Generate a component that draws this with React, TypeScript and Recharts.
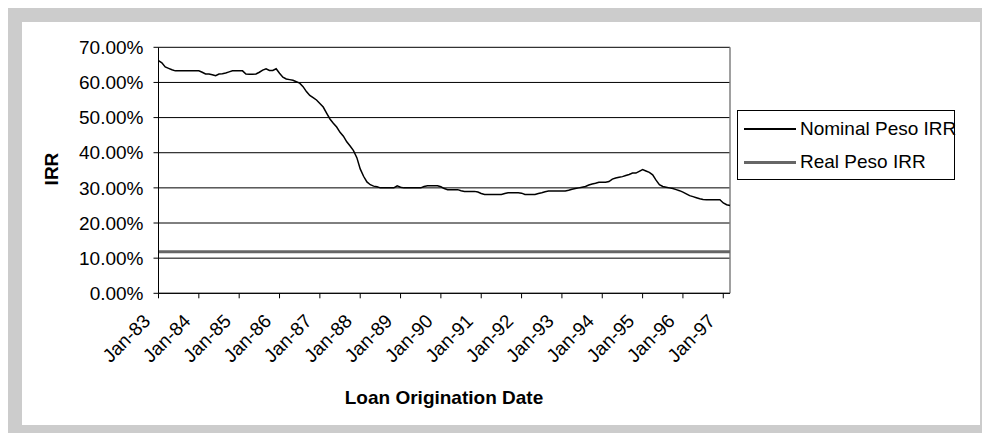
import {
    LineChart,
    Line,
    XAxis,
    YAxis,
    CartesianGrid,
    Legend,
    ReferenceLine,
    Label,
} from "recharts";

const FONT = '"Liberation Sans", Arial, sans-serif';

const monthNames = ["Jan", "Feb", "Mar", "Apr", "May", "Jun", "Jul", "Aug", "Sep", "Oct", "Nov", "Dec"];
const years = [83, 84, 85, 86, 87, 88, 89, 90, 91, 92, 93, 94, 95, 96, 97];

// nominal peso IRR (%), one array per year
const n1983 = [66.2, 65.6, 64.4, 64.0, 63.6, 63.3, 63.3, 63.3, 63.3, 63.3, 63.3, 63.3];
const n1984 = [63.3, 62.9, 62.4, 62.4, 62.2, 61.9, 62.4, 62.5, 62.7, 63.0, 63.3, 63.3];
const n1985 = [63.3, 63.3, 62.4, 62.3, 62.3, 62.4, 62.9, 63.5, 63.9, 63.4, 63.4, 63.9];
const n1986 = [62.6, 61.5, 61.0, 60.8, 60.6, 60.2, 59.8, 58.8, 57.4, 56.3, 55.7, 55.0];
const n1987 = [54.0, 53.0, 51.3, 49.6, 48.4, 47.3, 45.8, 44.7, 43.1, 41.9, 40.6, 38.6];
const n1988 = [35.4, 33.3, 31.7, 30.9, 30.5, 30.3, 30.0, 30.0, 30.0, 30.0, 30.0, 30.6];
const n1989 = [30.2, 30.0, 30.0, 30.0, 30.0, 30.0, 30.0, 30.4, 30.6, 30.6, 30.6, 30.6];
const n1990 = [30.3, 29.8, 29.5, 29.5, 29.5, 29.5, 29.2, 29.0, 29.0, 29.0, 29.0, 28.8];
const n1991 = [28.4, 28.1, 28.1, 28.1, 28.1, 28.1, 28.1, 28.4, 28.6, 28.6, 28.6, 28.6];
const n1992 = [28.5, 28.1, 28.1, 28.1, 28.1, 28.4, 28.6, 28.9, 29.1, 29.1, 29.1, 29.1];
const n1993 = [29.1, 29.1, 29.3, 29.6, 29.8, 30.0, 30.2, 30.4, 30.8, 31.1, 31.3, 31.6];
const n1994 = [31.6, 31.6, 31.8, 32.5, 32.8, 33.0, 33.2, 33.5, 33.8, 34.2, 34.2, 34.7];
const n1995 = [35.2, 34.8, 34.4, 33.7, 32.2, 30.9, 30.4, 30.2, 30.0, 29.8, 29.5, 29.2];
const n1996 = [28.8, 28.3, 27.8, 27.5, 27.2, 26.9, 26.7, 26.6, 26.6, 26.6, 26.6, 26.6];
const n1997 = [25.7, 25.2, 25.0];

const nominalIrr = [
    ...n1983, ...n1984, ...n1985, ...n1986, ...n1987,
    ...n1988, ...n1989, ...n1990, ...n1991, ...n1992,
    ...n1993, ...n1994, ...n1995, ...n1996, ...n1997,
];

// real peso IRR (%) - flat line
const realIrr = [
    11.8, 11.8, 11.8, 11.8, 11.8, 11.8, 11.8, 11.8, 11.8, 11.8, 11.8, 11.8,
    11.8, 11.8, 11.8, 11.8, 11.8, 11.8, 11.8, 11.8, 11.8, 11.8, 11.8, 11.8,
    11.8, 11.8, 11.8, 11.8, 11.8, 11.8, 11.8, 11.8, 11.8, 11.8, 11.8, 11.8,
    11.8, 11.8, 11.8, 11.8, 11.8, 11.8, 11.8, 11.8, 11.8, 11.8, 11.8, 11.8,
    11.8, 11.8, 11.8, 11.8, 11.8, 11.8, 11.8, 11.8, 11.8, 11.8, 11.8, 11.8,
    11.8, 11.8, 11.8, 11.8, 11.8, 11.8, 11.8, 11.8, 11.8, 11.8, 11.8, 11.8,
    11.8, 11.8, 11.8, 11.8, 11.8, 11.8, 11.8, 11.8, 11.8, 11.8, 11.8, 11.8,
    11.8, 11.8, 11.8, 11.8, 11.8, 11.8, 11.8, 11.8, 11.8, 11.8, 11.8, 11.8,
    11.8, 11.8, 11.8, 11.8, 11.8, 11.8, 11.8, 11.8, 11.8, 11.8, 11.8, 11.8,
    11.8, 11.8, 11.8, 11.8, 11.8, 11.8, 11.8, 11.8, 11.8, 11.8, 11.8, 11.8,
    11.8, 11.8, 11.8, 11.8, 11.8, 11.8, 11.8, 11.8, 11.8, 11.8, 11.8, 11.8,
    11.8, 11.8, 11.8, 11.8, 11.8, 11.8, 11.8, 11.8, 11.8, 11.8, 11.8, 11.8,
    11.8, 11.8, 11.8, 11.8, 11.8, 11.8, 11.8, 11.8, 11.8, 11.8, 11.8, 11.8,
    11.8, 11.8, 11.8, 11.8, 11.8, 11.8, 11.8, 11.8, 11.8, 11.8, 11.8, 11.8,
    11.8, 11.8, 11.8,
];

const yTicks = [0, 10, 20, 30, 40, 50, 60, 70];

const monthLabels = years.flatMap((yy) => monthNames.map((m) => `${m}-${yy}`));

const data = nominalIrr.map((v, i) => ({
    month: monthLabels[i],
    nominal: v,
    real: realIrr[i],
}));

const lastMonth = data[data.length - 1].month;

const MonthTick = ({ x, y, payload }: any) => {
    const ax = x - 7;
    const ay = y + 24;
    return (
        <text
            x={ax}
            y={ay}
            transform={`rotate(-45 ${ax} ${ay})`}
            textAnchor="end"
            fontSize={19}
            fontFamily={FONT}
            fill="#000"
        >
            {payload.value}
        </text>
    );
};

const LegendBox = ({ payload }: any) => (
    <div
        style={{
            width: 216,
            height: 68,
            border: "1px solid #000",
            background: "#fff",
            fontFamily: FONT,
            fontSize: 19,
            color: "#000",
            position: "relative",
        }}
    >
        {(payload || []).map((entry: any, i: number) => (
            <div
                key={entry.value}
                style={{
                    position: "absolute",
                    left: 6,
                    top: 6 + i * 33,
                    height: 24,
                    display: "flex",
                    alignItems: "center",
                    whiteSpace: "nowrap",
                }}
            >
                <span
                    style={{
                        display: "inline-block",
                        width: 52,
                        height: i === 0 ? 1.5 : 3,
                        background: entry.color,
                        marginRight: 4,
                    }}
                />
                {entry.value}
            </div>
        ))}
    </div>
);

const App = () => {
    return (
        <div style={{ position: "relative", width: 990, height: 441, margin: -8, background: "#fff", overflow: "hidden" }}>
            <div
                style={{
                    position: "absolute",
                    left: 4,
                    top: 4,
                    width: 986,
                    height: 437,
                    background: "#cccccc",
                    borderTop: "2px solid #000",
                    borderLeft: "2px solid #000",
                    boxSizing: "border-box",
                }}
            />
            <div style={{ position: "absolute", left: 22, top: 22, width: 958, height: 403, background: "#fff" }} />
            <div style={{ position: "absolute", left: 0, top: 0 }}>
                <LineChart
                    width={990}
                    height={441}
                    data={data}
                    margin={{ top: 47.3, right: 260, bottom: 0, left: 78.5 }}
                >
                    <CartesianGrid vertical={false} stroke="#000" strokeWidth={1} />
                    <XAxis
                        dataKey="month"
                        interval={11}
                        height={147.7}
                        tickSize={5}
                        tickMargin={0}
                        stroke="#000"
                        tickLine={{ stroke: "#000" }}
                        tick={MonthTick}
                    >
                        <Label
                            content={() => (
                                <text
                                    x={444}
                                    y={404}
                                    textAnchor="middle"
                                    fontSize={19}
                                    fontWeight="bold"
                                    fontFamily={FONT}
                                    fill="#000"
                                >
                                    Loan Origination Date
                                </text>
                            )}
                        />
                    </XAxis>
                    <YAxis
                        width={80}
                        domain={[0, 70]}
                        ticks={yTicks}
                        interval={0}
                        tickSize={5}
                        tickMargin={10}
                        stroke="#000"
                        tickFormatter={(v: number) => `${v.toFixed(2)}%`}
                        tick={{ fontSize: 19, fontFamily: FONT, fill: "#000" }}
                    >
                        <Label
                            content={() => (
                                <text
                                    x={57.5}
                                    y={169}
                                    transform="rotate(-90 57.5 169)"
                                    textAnchor="middle"
                                    fontSize={19}
                                    fontWeight="bold"
                                    fontFamily={FONT}
                                    fill="#000"
                                >
                                    IRR
                                </text>
                            )}
                        />
                    </YAxis>
                    <ReferenceLine x={lastMonth} stroke="#808080" strokeWidth={1.5} />
                    <Legend
                        layout="vertical"
                        align="center"
                        verticalAlign="middle"
                        content={LegendBox}
                        wrapperStyle={{ position: "absolute", left: 737, top: 110, width: 218, height: 70 }}
                    />
                    <Line
                        type="linear"
                        dataKey="nominal"
                        name="Nominal Peso IRR"
                        stroke="#000"
                        strokeWidth={1.5}
                        dot={false}
                        isAnimationActive={false}
                    />
                    <Line
                        type="linear"
                        dataKey="real"
                        name="Real Peso IRR"
                        stroke="#666"
                        strokeWidth={3}
                        dot={false}
                        isAnimationActive={false}
                    />
                </LineChart>
            </div>
        </div>
    );
};

export default App;
